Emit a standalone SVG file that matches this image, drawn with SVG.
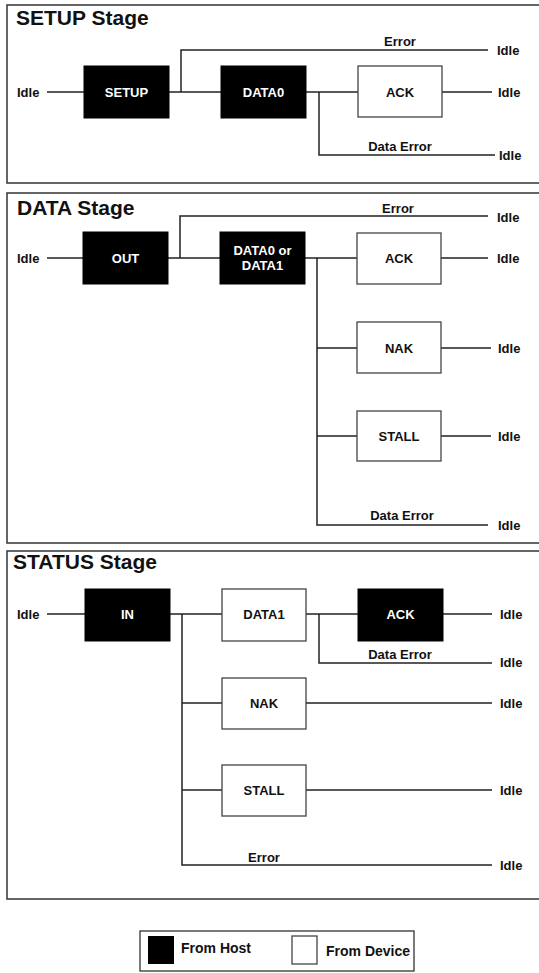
<svg xmlns="http://www.w3.org/2000/svg" width="539" height="973" viewBox="0 0 539 973">
<style>
text{font-family:"Liberation Sans",Arial,sans-serif;font-weight:bold;fill:#111}
.title{font-size:21px}
.lbl{font-size:13px}
.nl{font-size:13px;text-anchor:middle}
.hl{fill:#fff}
.mid{text-anchor:middle}
.frame{fill:none;stroke:#333;stroke-width:1.5}
.host{fill:#000;stroke:#000;stroke-width:1}
.dev{fill:#fff;stroke:#444;stroke-width:1.3}
.c{fill:none;stroke:#222;stroke-width:1.5}
.leg{font-size:14px}
</style>
<rect class="frame" x="7" y="5" width="545" height="178"/>
<rect class="frame" x="7" y="193" width="545" height="350"/>
<rect class="frame" x="7" y="551" width="545" height="348"/>
<text class="title" x="16" y="25">SETUP Stage</text>
<text class="title" x="17" y="215">DATA Stage</text>
<text class="title" x="13" y="569">STATUS Stage</text>
<g id="connectors">
<path class="c" d="M47 92H84M169 92H221M181 92V50H488M306 92H358M319 92V155H495M442 92H492"/>
<path class="c" d="M47 258H83M168 258H220M180 258V216H488M305 258H357M317 258V525H488M441 258H488M317 348H357M441 348H491M317 436H357M441 436H491"/>
<path class="c" d="M47 614H85M170 614H222M182 614V865H492M306 614H358M319 614V663H492M443 614H492M182 703H222M306 703H492M182 790H222M306 790H492"/>
</g>
<g id="labels">
<text class="lbl" x="17" y="96.5">Idle</text>
<text class="lbl mid" x="400" y="46">Error</text>
<text class="lbl" x="497" y="55">Idle</text>
<text class="lbl mid" x="400" y="151">Data Error</text>
<text class="lbl" x="499" y="160">Idle</text>
<text class="lbl" x="498" y="96.5">Idle</text>
<text class="lbl" x="17" y="262.5">Idle</text>
<text class="lbl mid" x="398" y="213">Error</text>
<text class="lbl" x="497" y="222">Idle</text>
<text class="lbl" x="497" y="262.5">Idle</text>
<text class="lbl" x="498" y="352.5">Idle</text>
<text class="lbl" x="498" y="440.5">Idle</text>
<text class="lbl mid" x="402" y="520">Data Error</text>
<text class="lbl" x="498" y="529.5">Idle</text>
<text class="lbl" x="17" y="618.5">Idle</text>
<text class="lbl mid" x="400" y="659">Data Error</text>
<text class="lbl" x="500" y="667">Idle</text>
<text class="lbl" x="500" y="618.5">Idle</text>
<text class="lbl" x="500" y="707.5">Idle</text>
<text class="lbl" x="500" y="794.5">Idle</text>
<text class="lbl mid" x="264" y="862">Error</text>
<text class="lbl" x="500" y="869.5">Idle</text>
</g>
<g id="setup-setup"><rect class="host" x="84" y="66" width="85" height="52"/><text class="nl hl" x="126.5" y="96.5">SETUP</text></g>
<g id="setup-data0"><rect class="host" x="221" y="66" width="85" height="52"/><text class="nl hl" x="263.5" y="96.5">DATA0</text></g>
<g id="setup-ack"><rect class="dev" x="358" y="66" width="84" height="51"/><text class="nl" x="400" y="96.5">ACK</text></g>
<g id="data-out"><rect class="host" x="83" y="232" width="85" height="52"/><text class="nl hl" x="125.5" y="262.5">OUT</text></g>
<g id="data-data"><rect class="host" x="220" y="232" width="85" height="52"/><text class="nl hl" x="262.5" y="255">DATA0 or</text><text class="nl hl" x="262.5" y="270">DATA1</text></g>
<g id="data-ack"><rect class="dev" x="357" y="233" width="84" height="51"/><text class="nl" x="399" y="262.5">ACK</text></g>
<g id="data-nak"><rect class="dev" x="357" y="322" width="84" height="51"/><text class="nl" x="399" y="352.5">NAK</text></g>
<g id="data-stall"><rect class="dev" x="357" y="411" width="84" height="50"/><text class="nl" x="399" y="440.5">STALL</text></g>
<g id="status-in"><rect class="host" x="85" y="589" width="85" height="52"/><text class="nl hl" x="127.5" y="618.5">IN</text></g>
<g id="status-data1"><rect class="dev" x="222" y="589" width="84" height="52"/><text class="nl" x="264" y="618.5">DATA1</text></g>
<g id="status-ack"><rect class="host" x="358" y="589" width="85" height="52"/><text class="nl hl" x="400.5" y="618.5">ACK</text></g>
<g id="status-nak"><rect class="dev" x="222" y="678" width="84" height="51"/><text class="nl" x="264" y="707.5">NAK</text></g>
<g id="status-stall"><rect class="dev" x="222" y="765" width="84" height="51"/><text class="nl" x="264" y="794.5">STALL</text></g>
<g id="legend">
<rect x="140" y="931" width="274" height="40" fill="#fff" stroke="#333" stroke-width="1.3"/>
<rect x="148" y="936" width="26" height="28" fill="#000"/>
<text class="leg" x="181" y="953">From Host</text>
<rect class="dev" x="292" y="936" width="25" height="28"/>
<text class="leg" x="326" y="956">From Device</text>
</g>
</svg>
